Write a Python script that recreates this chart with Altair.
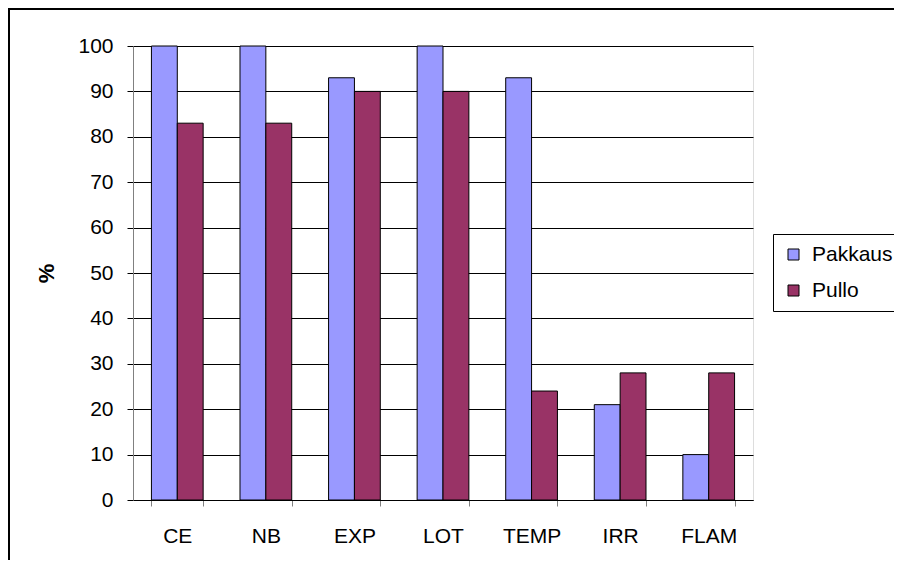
import altair as alt
import pandas as pd

categories = ["CE", "NB", "EXP", "LOT", "TEMP", "IRR", "FLAM"]
series = ["Pakkaus", "Pullo"]
pakkaus = [100, 100, 93, 100, 93, 21, 10]
pullo = [83, 83, 90, 90, 24, 28, 28]
colors = ["#9999FF", "#993366"]

rows = []
for c, a, b in zip(categories, pakkaus, pullo):
    rows.append({"cat": c, "series": "Pakkaus", "value": a})
    rows.append({"cat": c, "series": "Pullo", "value": b})
df = pd.DataFrame(rows)

FONT = "Liberation Sans"
W, H = 620, 454
PAD_L, PAD_T, PAD_R, PAD_B = 125, 38, 141, 60

bars = alt.Chart(df).mark_bar(stroke="black", strokeWidth=1).encode(
    x=alt.X("cat:N", sort=categories,
            scale=alt.Scale(paddingInner=0.416, paddingOuter=0.208),
            axis=alt.Axis(title=None, labelAngle=0, labelFontSize=21, labelFont=FONT,
                          labelColor="black", domainColor="black", tickColor="#808080",
                          tickSize=6, tickBand="extent", labelPadding=19, grid=False)),
    xOffset=alt.XOffset("series:N", sort=series, scale=alt.Scale(paddingInner=0, paddingOuter=0)),
    y=alt.Y("value:Q", scale=alt.Scale(domain=[0, 100], nice=False),
            axis=alt.Axis(title="%", values=list(range(0, 101, 10)), labelFontSize=21,
                          labelFont=FONT, labelColor="black", domainColor="#808080",
                          tickColor="black", tickSize=6, labelPadding=14,
                          grid=True, gridColor="black", gridWidth=1,
                          titleFontSize=22, titleFont=FONT, titleFontWeight="bold",
                          titleColor="black", titleX=-87, titleY=227, titleAngle=270,
                          titleBaseline="middle", titleAlign="center")),
    color=alt.Color("series:N", sort=series,
                    scale=alt.Scale(domain=series, range=colors),
                    legend=alt.Legend(title=None, orient="none", legendX=640, legendY=188,
                                      strokeColor="black", fillColor="white", padding=10,
                                      symbolType="square", symbolSize=121,
                                      symbolStrokeColor="black", symbolStrokeWidth=1,
                                      symbolOpacity=1, labelFontSize=21, labelFont=FONT,
                                      labelColor="black", rowPadding=14, labelOffset=8)),
)

one = alt.Data(values=[{"k": 1}])
left_border = alt.Chart(one).mark_rule(color="black", strokeWidth=2).encode(
    x=alt.value(-PAD_L + 1), x2=alt.value(-PAD_L + 1),
    y=alt.value(-PAD_T), y2=alt.value(H + PAD_B))
top_border = alt.Chart(one).mark_rule(color="black", strokeWidth=2).encode(
    x=alt.value(-PAD_L), x2=alt.value(W + PAD_R),
    y=alt.value(-PAD_T + 1), y2=alt.value(-PAD_T + 1))

chart = alt.layer(bars, left_border, top_border).properties(
    width=W, height=H,
    autosize=alt.AutoSizeParams(type="none"),
    padding={"left": PAD_L, "top": PAD_T, "right": PAD_R, "bottom": PAD_B},
).configure_view(stroke="#808080", strokeWidth=1).configure(font=FONT, background="white")

chart.save("out.html", embed_options={"renderer": "svg", "actions": False})
